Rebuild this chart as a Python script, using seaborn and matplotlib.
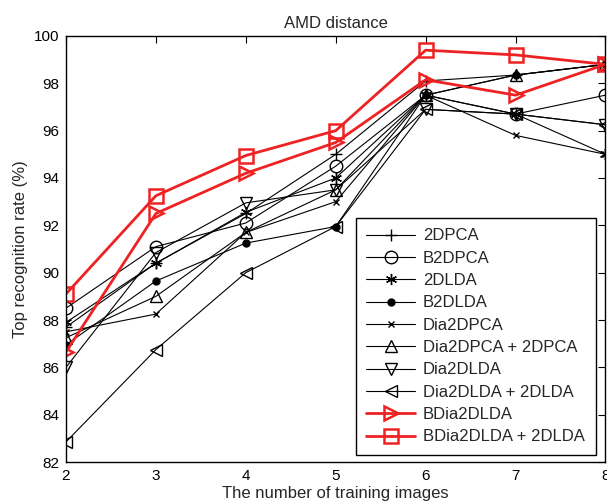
import matplotlib
matplotlib.use("Agg")
import matplotlib.pyplot as plt
import seaborn as sns
import pandas as pd

x_vals = [2, 3, 4, 5, 6, 7, 8]
s_2dpca = [87.7, 90.4, 92.5, 95.0, 98.1, 98.35, 98.8]
s_b2dpca = [88.5, 91.1, 92.1, 94.5, 97.5, 96.7, 97.5]
s_2dlda = [87.9, 90.4, 92.55, 94.0, 97.5, 96.7, 95.0]
s_b2dlda = [86.95, 89.65, 91.25, 91.95, 97.5, 98.35, 98.8]
s_dia2dpca = [87.5, 88.25, 91.7, 93.0, 97.5, 95.8, 95.0]
s_dia2dpca_2dpca = [87.25, 89.0, 91.7, 93.5, 97.5, 98.35, 98.8]
s_dia2dlda = [86.0, 90.85, 92.95, 93.5, 96.9, 96.7, 96.25]
s_dia2dlda_2dlda = [82.85, 86.75, 90.0, 91.95, 96.9, 96.7, 96.25]
s_bdia2dlda = [86.65, 92.5, 94.2, 95.5, 98.15, 97.5, 98.8]
s_bdia2dlda_2dlda = [89.1, 93.25, 94.95, 96.0, 99.4, 99.2, 98.8]

series_names = ["2DPCA", "B2DPCA", "2DLDA", "B2DLDA", "Dia2DPCA",
                "Dia2DPCA + 2DPCA", "Dia2DLDA", "Dia2DLDA + 2DLDA",
                "BDia2DLDA", "BDia2DLDA + 2DLDA"]
series_vals = [s_2dpca, s_b2dpca, s_2dlda, s_b2dlda, s_dia2dpca,
               s_dia2dpca_2dpca, s_dia2dlda, s_dia2dlda_2dlda,
               s_bdia2dlda, s_bdia2dlda_2dlda]
y_ticks = [82, 84, 86, 88, 90, 92, 94, 96, 98, 100]

sns.set_theme(style="white")
plt.rcParams['font.family'] = ['Liberation Sans', 'DejaVu Sans']

RED = '#ee2222'
styles = [
    dict(marker='+', ms=9, mfc='black', color='black', lw=0.8),
    dict(marker='o', ms=9, mfc='none', color='black', lw=0.8),
    dict(marker=(6, 2, 0), ms=8, mfc='black', color='black', lw=0.8),
    dict(marker='o', ms=5, mfc='black', color='black', lw=0.8),
    dict(marker='x', ms=5, mfc='black', color='black', lw=0.8),
    dict(marker='^', ms=9, mfc='none', color='black', lw=0.8),
    dict(marker='v', ms=9, mfc='none', color='black', lw=0.8),
    dict(marker='<', ms=9, mfc='none', color='black', lw=0.8),
    dict(marker='>', ms=10, mfc='none', color=RED, lw=2.0),
    dict(marker='s', ms=10, mfc='none', color=RED, lw=2.0),
]

fig = plt.figure(figsize=(6.07, 5.04), dpi=100)
ax = fig.add_axes([0.1087, 0.0833, 0.8888, 0.8453])

for name, vals, st in zip(series_names, series_vals, styles):
    df = pd.DataFrame({"x": x_vals, "y": vals})
    sns.lineplot(data=df, x="x", y="y", ax=ax, label=name,
                 color=st['color'], lw=st['lw'], marker=st['marker'],
                 markersize=st['ms'], markerfacecolor=st['mfc'],
                 markeredgecolor=st['color'], markeredgewidth=1.0 if st['color'] == 'black' else 1.8)

ax.set_xlim(2, 8)
ax.set_ylim(82, 100)
ax.set_xticks(x_vals)
ax.set_yticks(y_ticks)
ax.tick_params(direction='in', top=True, right=True, length=5, width=0.8,
               labelsize=11, colors='black', pad=5)
for sp in ax.spines.values():
    sp.set_color('black')
    sp.set_linewidth(1.0)
ax.set_title("AMD distance", fontsize=12, pad=6)
ax.set_xlabel("The number of training images", fontsize=12, labelpad=2)
ax.set_ylabel("Top recognition rate (%)", fontsize=12, labelpad=4)

leg = ax.legend(loc='lower right', bbox_to_anchor=(0.982, 0.016),
                borderaxespad=0,
                fontsize=12, frameon=True, fancybox=False, framealpha=1,
                edgecolor='black', handlelength=2.9, labelspacing=0.44,
                borderpad=0.65, handletextpad=0.5)
leg.get_frame().set_linewidth(1.0)

fig.savefig("out.png", dpi=100)
